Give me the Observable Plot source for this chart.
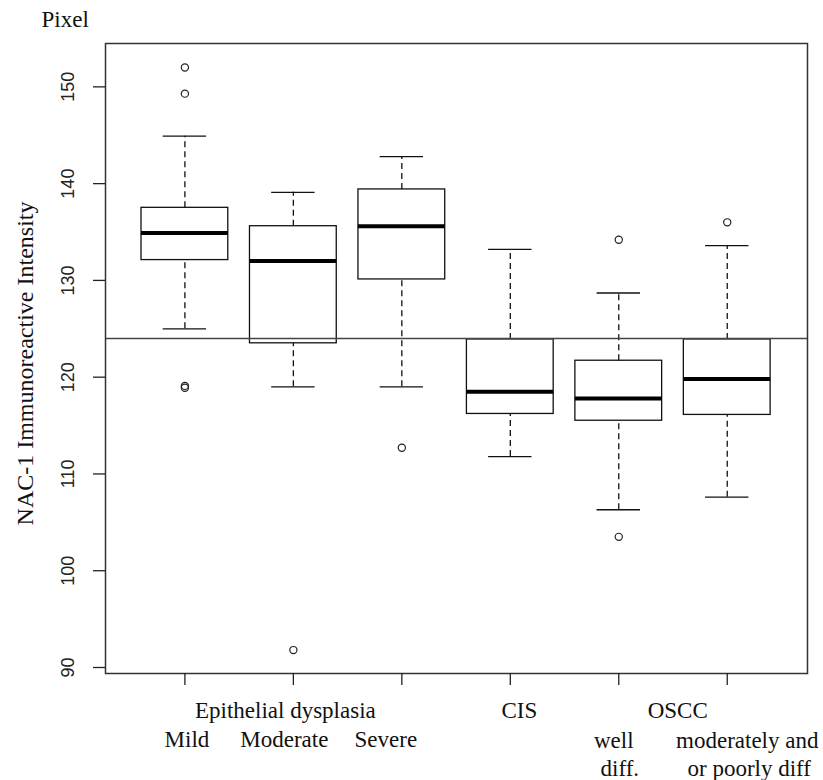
<!DOCTYPE html>
<html><head><meta charset="utf-8">
<script src="https://cdn.jsdelivr.net/npm/d3@7"></script>
<script src="https://cdn.jsdelivr.net/npm/@observablehq/plot@0.6"></script>
<style>body{margin:0;background:#fff} #chart svg{display:block}</style>
</head><body><div id="chart"></div>
<script>
// ---- data ----
const groups = ["Mild", "Moderate", "Severe", "CIS", "OSCC well diff.", "OSCC moderately and or poorly diff"];
const lowerWhisker = [125.0, 119.0, 119.0, 111.8, 106.3, 107.6];
const q1Values     = [132.1, 123.5, 130.1, 116.2, 115.5, 116.1];
const medians      = [134.9, 132.0, 135.6, 118.5, 117.8, 119.8];
const q3Values     = [137.5, 135.6, 139.4, 123.9, 121.7, 123.9];
const upperWhisker = [144.9, 139.1, 142.8, 133.2, 128.7, 133.6];
const outlierGroup = [1, 1, 1, 1, 2, 3, 5, 5, 6];
const outlierValue = [152.0, 149.3, 119.1, 118.9, 91.8, 112.7, 134.2, 103.5, 136.0];
const cutoff = 124.0;
const yTicks = [90, 100, 110, 120, 130, 140, 150];
const yTitle = "NAC-1 Immunoreactive Intensity";
const unitLabel = "Pixel";
const groupHeader = ["Epithelial dysplasia", "CIS", "OSCC"];
const subLabels1 = ["Mild", "Moderate", "Severe", "well", "moderately and"];
const subLabels2 = ["diff.", "or poorly diff"];

// ---- derived tables ----
const boxes = groups.map((g, i) => ({
  pos: i + 1, name: g,
  lo: lowerWhisker[i], q1: q1Values[i], med: medians[i], q3: q3Values[i], hi: upperWhisker[i]
}));
const outliers = outlierGroup.map((g, i) => ({pos: g, v: outlierValue[i]}));
const positions = boxes.map(d => d.pos);

const serif = "'Liberation Serif','Times New Roman',serif";
const sans = "'Liberation Sans',Arial,sans-serif";
const halfBox = 0.4, halfStaple = 0.2;
const ink = "#111";
const dash = "6,4";

function label(text, pos, dx, dy, size = 23) {
  return Plot.text([text], {
    x: () => pos, text: d => d, frameAnchor: "bottom", dx, dy,
    lineAnchor: "bottom", textAnchor: "middle",
    fontFamily: serif, fontSize: size, fill: "#111"
  });
}

const plot = Plot.plot({
  width: 823, height: 780,
  marginLeft: 105, marginRight: 16, marginTop: 43, marginBottom: 107,
  x: {domain: [0.268, 6.74], axis: null},
  y: {domain: [89.38, 154.48], axis: null},
  style: {background: "white", overflow: "visible"},
  marks: [
    // whiskers
    Plot.ruleX(boxes, {x: "pos", y1: "q3", y2: "hi", stroke: ink, strokeWidth: 1.3, strokeDasharray: dash}),
    Plot.ruleX(boxes, {x: "pos", y1: "lo", y2: "q1", stroke: ink, strokeWidth: 1.3, strokeDasharray: dash}),
    Plot.ruleY(boxes, {y: "hi", x1: d => d.pos - halfStaple, x2: d => d.pos + halfStaple, stroke: ink, strokeWidth: 1.3}),
    Plot.ruleY(boxes, {y: "lo", x1: d => d.pos - halfStaple, x2: d => d.pos + halfStaple, stroke: ink, strokeWidth: 1.3}),
    // boxes
    Plot.rect(boxes, {x1: d => d.pos - halfBox, x2: d => d.pos + halfBox, y1: "q1", y2: "q3", fill: "none", stroke: ink, strokeWidth: 1.3}),
    Plot.ruleY(boxes, {y: "med", x1: d => d.pos - halfBox, x2: d => d.pos + halfBox, stroke: "#000", strokeWidth: 4}),
    // outliers
    Plot.dot(outliers, {x: "pos", y: "v", r: 3.6, stroke: "#222", strokeWidth: 1.2, fill: "none"}),
    // reference line
    Plot.ruleY([cutoff], {stroke: "#444", strokeWidth: 1.5}),
    Plot.frame({stroke: "#333", strokeWidth: 1.5}),
    // axes
    Plot.axisY({ticks: yTicks, tickSize: 12, tickFormat: () => "", label: null, stroke: "#222", strokeWidth: 1.3}),
    Plot.axisX({ticks: positions, tickSize: 12, tickFormat: () => "", label: null, stroke: "#222", strokeWidth: 1.3}),
    Plot.text(yTicks, {y: d => d, text: d => String(d), frameAnchor: "left", dx: -37, rotate: -90,
      textAnchor: "middle", lineAnchor: "middle", fontFamily: sans, fontSize: 18, fill: "#222"}),
    Plot.text([yTitle], {text: d => d, frameAnchor: "left", dx: -73, dy: 5, rotate: -90,
      textAnchor: "middle", lineAnchor: "bottom", fontFamily: serif, fontSize: 24, fill: "#111"}),
    Plot.text([unitLabel], {text: d => d, frameAnchor: "top-left", dx: -64, dy: -17,
      textAnchor: "start", lineAnchor: "bottom", fontFamily: serif, fontSize: 23, fill: "#111"}),
    // category labels
    label(groupHeader[0], 2, -8, 44),
    label(groupHeader[1], 4, 9, 44),
    label(groupHeader[2], 5, 59, 44),
    label(subLabels1[0], 1, 2, 73),
    label(subLabels1[1], 2, -9, 73),
    label(subLabels1[2], 3, -16, 73),
    label(subLabels1[3], 5, -5, 74),
    label(subLabels1[4], 6, 20, 74),
    label(subLabels2[0], 5, 1, 102),
    label(subLabels2[1], 6, 22, 102)
  ]
});
document.getElementById("chart").appendChild(plot);
</script>
</body></html>
